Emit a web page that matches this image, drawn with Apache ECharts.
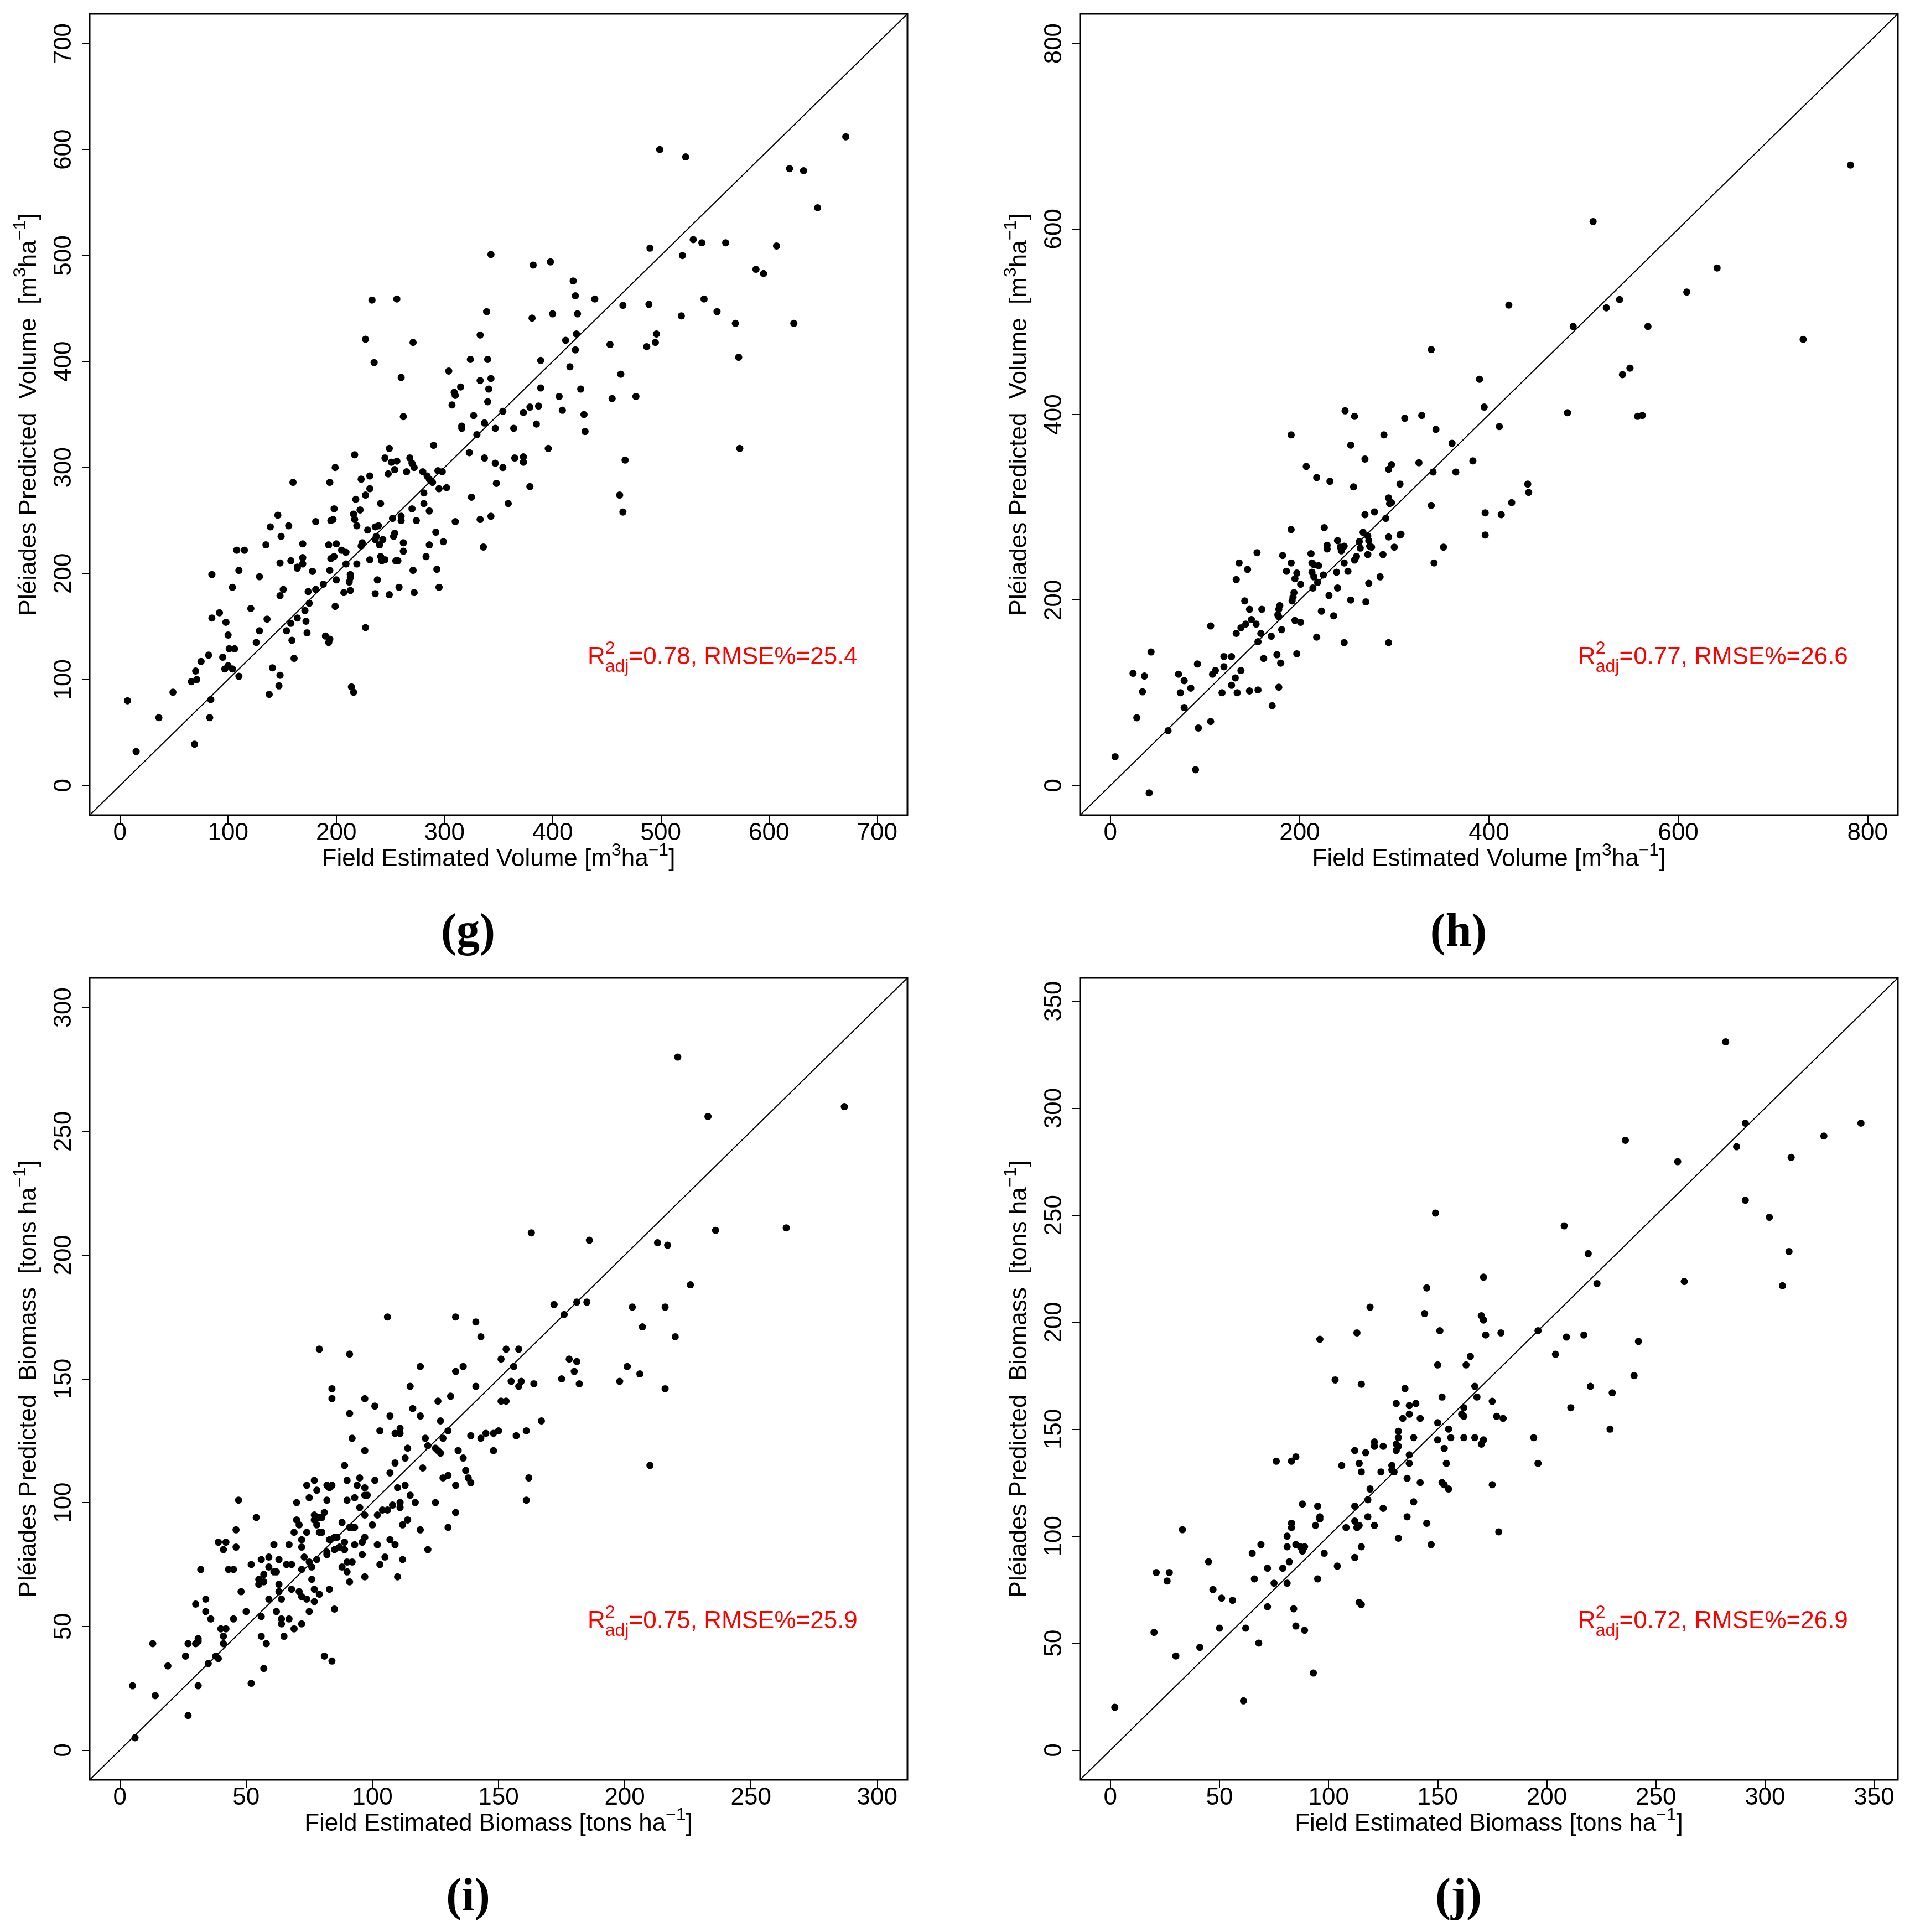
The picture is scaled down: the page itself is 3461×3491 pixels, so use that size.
<!DOCTYPE html>
<html>
<head>
<meta charset="utf-8">
<script src="https://cdn.jsdelivr.net/npm/echarts@6/dist/echarts.min.js"></script>
<style>
  html, body { margin: 0; padding: 0; background: #fff; }
  #chart { width: 3461px; height: 3491px; }
</style>
</head>
<body>
<div id="chart"></div>
<script>
// [field estimated, Pléiades predicted]
const volumeG = [
  [343,501],[382,491],[398,494],[419,476],[421,462],[439,459],[233,458],[256,459],[339,447],[381,441],[400,445],[423,445],
  [333,425],[422,426],[412,420],[227,421],[271,418],[324,402],[389,401],[340,402],[421,411],[235,399],[416,395],[260,385],
  [304,391],[343,384],[333,382],[341,374],[309,371],[310,368],[315,376],[389,375],[426,374],[406,367],[340,362],[307,359],
  [379,357],[387,358],[409,354],[354,353],[373,352],[429,350],[262,348],[327,349],[337,342],[385,341],[316,339],[316,337],
  [347,337],[364,337],[430,334],[330,331],[290,321],[249,318],[396,318],[217,312],[323,314],[245,309],[268,309],[337,309],
  [365,309],[373,310],[251,305],[256,306],[270,304],[373,305],[347,304],[272,300],[254,298],[199,300],[354,300],[265,296],
  [280,296],[294,297],[298,296],[248,294],[231,292],[284,292],[286,289],[223,289],[289,286],[160,286],[194,286],[348,285],
  [295,280],[231,280],[302,281],[379,282],[227,274],[281,276],[325,272],[218,270],[241,266],[281,266],[359,266],[222,260],
  [286,259],[198,261],[146,255],[216,256],[252,252],[260,254],[217,251],[270,261],[260,250],[274,250],[310,249],[333,251],
  [343,254],[195,250],[197,251],[181,249],[156,245],[139,244],[219,245],[236,244],[239,245],[229,241],[149,235],[237,235],
  [236,232],[243,232],[253,235],[254,238],[292,239],[262,229],[299,230],[286,227],[135,227],[169,228],[193,227],[200,228],
  [224,229],[223,226],[240,227],[262,221],[108,222],[115,222],[205,222],[209,220],[169,215],[283,216],[198,216],[195,214],
  [241,216],[231,213],[242,212],[245,213],[255,212],[257,212],[158,212],[148,210],[169,209],[164,206],[164,205],[209,209],
  [219,209],[293,204],[110,203],[178,202],[194,203],[271,203],[85,199],[129,197],[213,199],[213,196],[200,194],[238,194],
  [212,192],[188,190],[104,187],[151,185],[181,185],[174,183],[213,184],[258,187],[295,187],[207,182],[236,181],[249,180],
  [272,182],[148,179],[175,172],[199,169],[121,167],[171,165],[92,163],[85,158],[136,157],[164,158],[172,155],[98,154],
  [158,153],[227,149],[129,146],[154,146],[173,144],[100,142],[190,141],[194,138],[193,135],[159,137],[126,135],[101,129],
  [106,129],[82,123],[95,121],[161,120],[75,117],[100,113],[97,110],[104,110],[141,111],[70,108],[148,104],[110,103],
  [71,100],[66,98],[49,88],[147,94],[138,86],[214,93],[216,88],[84,81],[7,80],[36,64],[83,64],[69,39],[15,32],[336,225],
  [499,600],[523,593],[671,612],[619,582],[632,580],[645,545],[490,507],[520,500],[530,515],[538,512],[560,512],[607,509],
  [588,487],[595,483],[465,453],[489,454],[540,459],[519,443],[552,447],[569,436],[623,436],[572,404],[496,426],[495,418],
  [487,414],[453,416],[463,388],[455,365],[477,367],[573,318],[467,307],[462,274],[465,258]
];
const volumeH = [
  [510,608],[421,518],[538,524],[524,515],[489,495],[339,470],[541,443],[390,438],[395,408],[483,402],[248,404],[258,398],
  [311,396],[329,399],[344,384],[411,387],[191,378],[289,378],[254,367],[361,369],[269,352],[326,348],[383,350],[207,344],
  [294,341],[297,346],[341,338],[365,338],[218,332],[232,328],[257,322],[306,325],[441,325],[442,316],[294,310],[297,305],
  [295,304],[339,302],[424,305],[279,295],[269,292],[396,294],[413,292],[291,288],[191,276],[226,278],[267,273],[272,269],
  [294,268],[306,270],[307,271],[396,270],[240,264],[229,259],[229,255],[243,257],[247,258],[244,253],[263,263],[273,264],
  [274,258],[276,257],[264,256],[300,257],[352,257],[212,250],[155,251],[182,248],[272,249],[288,249],[136,240],[191,240],
  [213,240],[215,238],[220,237],[247,240],[258,243],[260,247],[342,240],[145,233],[186,231],[197,229],[213,230],[239,230],
  [251,231],[133,222],[195,223],[215,225],[225,227],[201,217],[219,219],[273,218],[285,225],[214,213],[240,213],[194,208],
  [193,203],[192,199],[231,205],[142,199],[254,200],[270,198],[147,190],[160,190],[178,190],[179,194],[177,184],[178,182],
  [223,188],[236,183],[149,179],[143,174],[154,174],[138,170],[133,164],[159,164],[170,161],[181,168],[195,178],[201,176],
  [106,172],[218,160],[247,154],[294,154],[156,155],[43,144],[162,137],[176,141],[197,142],[120,139],[128,139],[92,131],
  [180,132],[24,121],[36,118],[72,120],[108,120],[111,124],[120,128],[78,113],[138,124],[132,116],[34,101],[85,105],
  [128,108],[74,100],[118,100],[134,100],[147,102],[156,103],[178,106],[78,84],[171,86],[28,73],[61,59],[93,62],
  [106,69],[5,31],[90,17],[41,-8],
  [782,669],[641,558],[609,532],[568,495],[732,481],[549,450],[557,398],[562,399]
];
const biomassI = [
  [221,280],[163,209],[186,206],[213,205],[217,204],[226,188],[172,180],[176,176],[181,181],[185,181],[203,179],[216,179],
  [207,171],[220,167],[106,175],[133,175],[141,173],[143,167],[79,162],[91,160],[153,162],[158,162],[151,158],[156,155],
  [178,158],[181,157],[180,153],[175,150],[182,148],[201,155],[206,152],[198,149],[216,146],[119,155],[133,153],[136,155],
  [84,146],[84,142],[115,147],[141,147],[155,149],[159,149],[158,147],[164,148],[97,142],[126,141],[131,143],[151,141],
  [153,141],[101,139],[116,138],[119,135],[91,136],[107,135],[127,133],[167,133],[148,128],[150,129],[161,129],[103,129],
  [109,128],[111,128],[111,130],[130,129],[139,127],[143,126],[145,128],[157,127],[92,126],[121,126],[128,126],[97,121],
  [114,122],[122,123],[125,122],[126,121],[127,120],[134,121],[148,121],[113,118],[136,118],[109,116],[89,115],[120,114],
  [107,112],[137,113],[130,111],[128,110],[138,110],[139,108],[133,107],[162,110],[77,109],[90,109],[101,109],[95,110],
  [94,107],[74,107],[78,105],[82,107],[83,106],[84,107],[97,106],[110,106],[113,107],[97,103],[98,103],[93,102],
  [75,102],[82,101],[90,101],[70,100],[115,103],[117,100],[125,100],[111,100],[47,101],[95,98],[108,99],[111,98],
  [81,96],[104,97],[106,97],[102,95],[77,95],[79,94],[80,94],[97,95],[54,94],[70,93],[77,93],[93,90],
  [100,91],[78,91],[79,88],[80,88],[71,91],[91,90],[92,90],[88,92],[114,93],[112,91],[119,89],[69,88],
  [74,88],[46,89],[85,86],[86,86],[89,84],[83,85],[72,85],[97,86],[107,85],[93,83],[96,84],[109,83],
  [102,83],[67,83],[61,83],[39,84],[42,84],[41,81],[46,82],[72,82],[85,81],[87,82],[89,81],[82,80],
  [82,79],[78,77],[96,79],[103,75],[105,78],[112,77],[56,77],[59,78],[52,75],[57,71],[59,74],[63,77],
  [61,72],[62,72],[66,75],[68,75],[73,78],[75,76],[72,73],[76,74],[88,74],[90,76],[92,76],[90,72],
  [91,68],[97,70],[110,70],[45,73],[43,73],[32,73],[55,69],[57,68],[55,67],[68,65],[63,67],[76,69],
  [77,65],[71,64],[77,60],[72,62],[74,61],[79,63],[83,65],[48,64],[63,64],[59,61],[64,61],[34,61],
  [30,59],[50,56],[34,56],[36,53],[45,53],[62,56],[64,53],[67,53],[75,56],[56,54],[64,51],[72,51],
  [69,49],[85,57],[40,49],[42,49],[41,46],[41,43],[56,46],[65,46],[58,43],[31,45],[31,44],[30,43],
  [27,43],[13,43],[38,38],[39,37],[26,38],[35,35],[19,34],[57,33],[81,38],[84,36],[52,27],[5,26],
  [31,26],[14,22],[27,14],[6,5],[161,101],[210,115],[130,90],[133,96],[122,81],
  [233,256],[287,260],[236,210],[264,211]
];
const biomassJ = [
  [282,331],[291,293],[344,293],[327,287],[236,285],[287,282],[312,277],[260,275],[291,257],[302,249],[149,251],[208,245],
  [311,233],[219,232],[171,221],[263,219],[223,218],[308,217],[145,216],[119,207],[144,204],[170,203],[171,201],[113,195],
  [96,192],[151,196],[172,194],[179,195],[196,196],[209,193],[217,194],[242,191],[204,185],[165,184],[163,180],[150,180],
  [240,175],[103,173],[115,171],[167,170],[220,170],[135,169],[230,167],[152,165],[168,165],[175,163],[131,162],[137,161],
  [140,162],[162,160],[211,160],[137,157],[161,157],[162,156],[134,155],[142,155],[177,156],[180,155],[150,153],[155,150],
  [132,149],[132,146],[229,150],[194,146],[139,146],[150,145],[156,146],[162,146],[167,146],[171,145],[121,144],[131,143],
  [132,142],[170,143],[121,142],[125,142],[112,140],[117,139],[131,140],[153,141],[137,138],[76,135],[83,135],[85,137],
  [114,134],[196,134],[137,134],[154,134],[106,133],[129,133],[129,131],[130,130],[115,130],[124,130],[136,127],[152,125],
  [153,124],[155,122],[142,125],[175,124],[119,122],[118,117],[139,116],[88,115],[95,114],[112,114],[125,113],[96,109],
  [96,108],[83,106],[118,109],[112,107],[113,104],[114,105],[108,104],[121,105],[136,109],[145,106],[83,104],[94,105],
  [178,102],[33,103],[81,100],[132,99],[69,96],[85,96],[87,95],[89,95],[81,95],[115,95],[147,96],[65,92],
  [88,93],[98,92],[82,88],[45,88],[112,90],[104,86],[72,85],[79,85],[21,83],[27,83],[26,79],[66,80],
  [95,80],[75,78],[81,78],[47,75],[51,71],[56,70],[114,69],[115,68],[72,67],[84,66],[50,57],[62,57],
  [85,58],[89,56],[20,55],[68,50],[41,48],[30,44],[93,36],[61,23],[2,20]
];

const ticksG = [0, 100, 200, 300, 400, 500, 600, 700];
const ticksH = [0, 200, 400, 600, 800];
const ticksI = [0, 50, 100, 150, 200, 250, 300];
const ticksJ = [0, 50, 100, 150, 200, 250, 300, 350];

const FONT = '"Liberation Sans", Arial, Helvetica, sans-serif';
const SIZE = 44;
const W = 1478;

const volX = [['Field Estimated Volume [m', ''], ['3', '^'], ['ha', ''], ['\u22121', '^'], [']', '']];
const volY = [['Pléiades Predicted  Volume  [m', ''], ['3', '^'], ['ha', ''], ['\u22121', '^'], [']', '']];
const bioX = [['Field Estimated Biomass [tons ha', ''], ['\u22121', '^'], [']', '']];
const bioY = [['Pléiades Predicted  Biomass  [tons ha', ''], ['\u22121', '^'], [']', '']];

const panels = [
  { tag: '(g)', data: volumeG, lo: -28, hi: 728, ticks: ticksG, left: 162, top: 25, h: 1448, r2: '0.78', rmse: '25.4', xt: volX, yt: volY },
  { tag: '(h)', data: volumeH, lo: -32, hi: 832, ticks: ticksH, left: 1952, top: 25, h: 1448, r2: '0.77', rmse: '26.6', xt: volX, yt: volY },
  { tag: '(i)', data: biomassI, lo: -12, hi: 312, ticks: ticksI, left: 162, top: 1767, h: 1449, r2: '0.75', rmse: '25.9', xt: bioX, yt: bioY },
  { tag: '(j)', data: biomassJ, lo: -13.9, hi: 360.9, ticks: ticksJ, left: 1952, top: 1767, h: 1449, r2: '0.72', rmse: '26.9', xt: bioX, yt: bioY }
];

// text with super/subscripts, laid out on a common baseline at y = 0
const meas = document.createElement('canvas').getContext('2d');
function widthOf(t, s) {
  meas.font = s + 'px ' + FONT;
  return meas.measureText(t).width;
}
function mathText(pieces, color) {
  const small = Math.round(SIZE * 0.72);
  let x = 0, hold = 0;
  const els = [];
  pieces.forEach(([t, kind]) => {
    const s = kind ? small : SIZE;
    const dy = kind.startsWith('^') ? -0.46 * SIZE : (kind === '_' ? 0.3 * SIZE : 0);
    const w = widthOf(t, s);
    els.push({
      type: 'text', x: x, y: dy - 0.3465 * s,
      style: { text: t, fill: color, font: s + 'px ' + FONT, textAlign: 'left', textVerticalAlign: 'middle', align: 'left', verticalAlign: 'middle' }
    });
    if (kind === '^|') { hold = w; } else { x += Math.max(w, hold); hold = 0; }
  });
  return { els, width: x };
}
function centered(pieces, x, y, rotation) {
  const m = mathText(pieces, '#000');
  m.els.forEach(e => { e.x -= m.width / 2; });
  return { type: 'group', x: x, y: y, rotation: rotation || 0, children: m.els };
}

const grid = [], xAxis = [], yAxis = [], series = [], graphic = [];
panels.forEach((p, k) => {
  grid.push({ left: p.left, top: p.top, width: W, height: p.h, show: true, borderColor: '#000', borderWidth: 3, backgroundColor: 'transparent' });
  const base = {
    gridIndex: k, type: 'value', min: p.lo, max: p.hi,
    axisLine: { show: false, onZero: false },
    splitLine: { show: false },
    axisTick: { show: true, length: 14, lineStyle: { color: '#000', width: 2 }, customValues: p.ticks },
    axisLabel: { customValues: p.ticks, color: '#000', fontSize: SIZE, fontFamily: FONT }
  };
  xAxis.push(Object.assign({}, base, { axisLabel: Object.assign({}, base.axisLabel, { margin: 11 }) }));
  yAxis.push(Object.assign({}, base, { axisLabel: Object.assign({}, base.axisLabel, { margin: 24, rotate: 90 }) }));
  series.push({
    type: 'line', xAxisIndex: k, yAxisIndex: k, data: [[p.lo, p.lo], [p.hi, p.hi]],
    showSymbol: false, silent: true, lineStyle: { color: '#000', width: 2 }, z: 1
  });
  series.push({
    type: 'scatter', xAxisIndex: k, yAxisIndex: k, data: p.data,
    symbol: 'circle', symbolSize: 13, itemStyle: { color: '#000', opacity: 1 }, z: 2
  });

  graphic.push(centered(p.yt, p.left - 94, p.top + p.h / 2, Math.PI / 2));
  graphic.push(centered(p.xt, p.left + W / 2, p.top + p.h + 95));
  const r2 = mathText([['R', ''], ['2', '^|'], ['adj', '_'], ['=' + p.r2 + ', RMSE%=' + p.rmse, '']], '#ff0000');
  graphic.push({ type: 'group', x: p.left + 900, y: p.top + 1178, children: r2.els });
  graphic.push({
    type: 'text', x: p.left + 684, y: p.top + p.h + 214,
    style: { text: p.tag, fill: '#000', font: 'bold 84px "Liberation Serif", "Times New Roman", serif', textAlign: 'center', textVerticalAlign: 'middle', align: 'center', verticalAlign: 'middle' }
  });
});

const chart = echarts.init(document.getElementById('chart'), null, { renderer: 'canvas' });
chart.setOption({
  animation: false,
  backgroundColor: '#fff',
  grid, xAxis, yAxis, series,
  graphic: { elements: graphic }
});
</script>
</body>
</html>
